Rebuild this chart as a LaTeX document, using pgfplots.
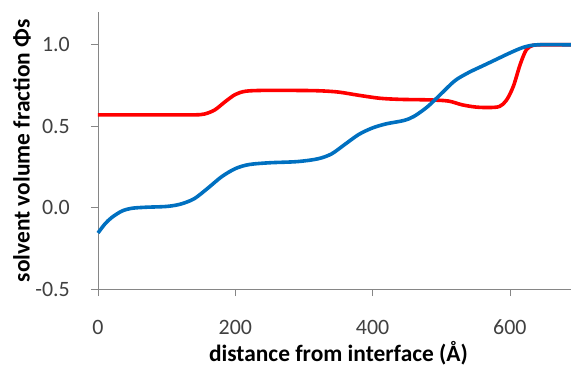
\documentclass[border=0pt]{standalone}
\usepackage{pgfplots}
\pgfplotsset{compat=1.18}
\usepackage{fontspec}
\setmainfont{Carlito}
\definecolor{axgray}{HTML}{868686}
\definecolor{txtgray}{HTML}{404040}
\definecolor{xlblue}{HTML}{0070C0}
\begin{document}
\begin{tikzpicture}[x=1bp,y=1bp]
\path[use as bounding box] (-98,-77.7) rectangle (473,289.2);
\begin{axis}[
  at={(0,0)}, anchor=south west,
  scale only axis, width=473bp, height=277bp,
  xmin=0, xmax=689, ymin=-0.5, ymax=1.2,
  axis x line*=bottom, axis y line*=left,
  axis line style={axgray, line width=0.8bp},
  xtick={0,200,400,600}, ytick={-0.5,0,0.5,1.0},
  yticklabel style={/pgf/number format/fixed, /pgf/number format/fixed zerofill, /pgf/number format/precision=1},
  /pgf/number format/assume math mode=true,
  tick align=outside, major tick length=7bp,
  tick style={axgray, line width=0.8bp},
  ticklabel style={font=\fontsize{22}{24}\selectfont, text=txtgray, inner sep=0pt},
  xticklabel style={anchor=center, yshift=-31bp},
  yticklabel style={anchor=east, xshift=-21bp},
  xlabel={\textbf{distance from interface (Å)}},
  ylabel={\textbf{solvent volume fraction Φs}},
  label style={font=\fontsize{23.5}{25}\selectfont, text=black, inner sep=0pt},
  xlabel style={at={(axis description cs:0.5,0)}, anchor=center, yshift=-64bp, xshift=4bp},
  ylabel style={at={(axis description cs:-0.1607,0.5)}, anchor=center},
  clip=false,
]
\addplot[red, line width=3.6bp, smooth, tension=0.5] coordinates {
(0,0.57) (50,0.57) (100,0.57) (140,0.57) (155,0.575) (170,0.60) (185,0.65)
(200,0.695) (215,0.715) (240,0.72) (280,0.72) (320,0.718) (350,0.71)
(380,0.69) (410,0.672) (440,0.665) (480,0.662) (510,0.655) (530,0.632)
(550,0.618) (570,0.615) (585,0.622) (595,0.66) (605,0.745) (615,0.88)
(624,0.97) (634,0.997) (650,1.0) (689,1.0)
};
\addplot[xlblue, line width=3.6bp, smooth, tension=0.5] coordinates {
(0,-0.155) (10,-0.10) (20,-0.06) (35,-0.02) (50,-0.003) (70,0.003)
(100,0.008) (120,0.022) (140,0.055) (160,0.12) (180,0.19) (200,0.24)
(220,0.265) (250,0.276) (290,0.283) (320,0.30) (340,0.33) (360,0.39)
(380,0.45) (400,0.49) (420,0.515) (445,0.535) (460,0.56) (480,0.62)
(500,0.70) (520,0.78) (540,0.83) (560,0.87) (580,0.91) (600,0.95)
(620,0.985) (640,1.0) (689,1.0)
};
\end{axis}
\end{tikzpicture}
\end{document}
